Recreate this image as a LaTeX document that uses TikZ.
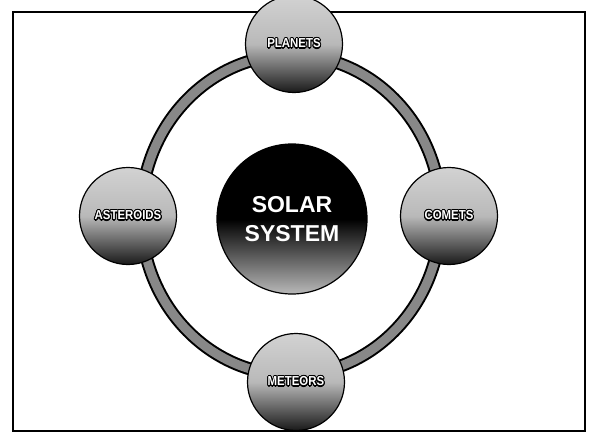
\documentclass[tikz,border=0pt]{standalone}
\usepackage{fontspec}
\setmainfont{Liberation Sans}
\usepackage{contour}
\contourlength{1.1pt}
\contournumber{16}
\begin{document}
\begin{tikzpicture}[x=1pt,y=-1pt,
  planet/.style={circle, draw=black, line width=1.2pt, minimum size=97pt, inner sep=0pt,
     top color=gray!35, bottom color=black!90, middle color=gray!55,
     font=\bfseries\fontsize{13}{14}\selectfont, text=white},
  sun/.style={circle, draw=black, line width=1.2pt, minimum size=150pt, inner sep=0pt,
     top color=black, bottom color=gray!55, middle color=black,
     font=\bfseries\fontsize{23}{29}\selectfont, text=white, align=center},
  frame/.style={draw=black, line width=1.4pt}]
\useasboundingbox (0,0) rectangle (589,433);
\draw[frame] (13,12) rectangle (585,431);
% ring
\coordinate (rc) at (291,215);
\draw[line width=13pt, black] (rc) ellipse [x radius=150, y radius=160];
\draw[line width=9pt, gray!45!black!60] (rc) ellipse [x radius=150, y radius=160];
\node[sun] (solar) at (292,219) {SOLAR\\SYSTEM};
\node[planet] (planets) at (294,44) {\scalebox{0.88}[1]{\contour{black}{PLANETS}}};
\node[planet] (meteors) at (296,382) {\scalebox{0.88}[1]{\contour{black}{METEORS}}};
\node[planet] (asteroids) at (128,216) {\scalebox{0.88}[1]{\contour{black}{ASTEROIDS}}};
\node[planet] (comets) at (449,216) {\scalebox{0.88}[1]{\contour{black}{COMETS}}};
\end{tikzpicture}
\end{document}
